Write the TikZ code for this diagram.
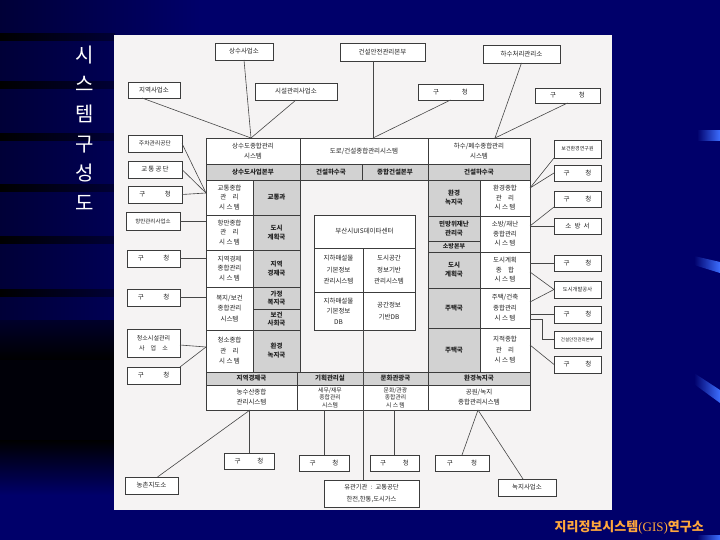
\documentclass[tikz,border=0pt]{standalone}
\usepackage{fontspec}
\setmainfont{Noto Sans CJK KR}
\newfontfamily\serifL{Liberation Serif}
\usetikzlibrary{calc}
\definecolor{bgnavy}{RGB}{0,0,106}
\definecolor{bgdark}{RGB}{0,0,55}
\definecolor{paper}{RGB}{245,243,243}
\definecolor{bdcol}{RGB}{60,60,60}
\definecolor{lncol}{RGB}{70,70,70}
\definecolor{txcol}{RGB}{35,35,35}
\definecolor{graycell}{RGB}{210,210,210}
\definecolor{barblue}{RGB}{60,110,255}
\definecolor{orng}{RGB}{255,168,60}
\newcommand\fsz[2]{\fontsize{#1}{#2}\selectfont}
\newcommand\gc[1]{구\hspace{#1}청}
\newcommand\cbx[7]{\node[#1, minimum width={(#5-#3)*1pt}, minimum height={(#6-#4)*1pt}] (#2) at ({(#3+#5)/2},{(#4+#6)/2}) {#7};}
\tikzset{
  ln/.style={draw=lncol, line width=0.6pt},
  cellw/.style={draw=bdcol, line width=0.7pt, fill=white, text=txcol, font=\fsz{6.5}{9.5}, align=center, inner sep=0pt, outer sep=0pt},
  cellg/.style={cellw, fill=graycell, font=\bfseries\fsz{6.5}{9}},
  ext/.style={cellw, font=\fsz{6.5}{8}},
}
\begin{document}
\begin{tikzpicture}[x=1pt,y=-1pt]
\useasboundingbox (0,0) rectangle (720,540);
% ---------- slide background ----------
\fill[bgnavy] (0,0) rectangle (720,540);
\shade[left color=bgdark, right color=bgnavy] (0,0) rectangle (200,330);
\foreach \yy in {37,85,137,188,240,293}{
  \shade[left color=black, right color=black!50!bgnavy] (0,\yy-3.5) rectangle (115,\yy+3.5);
}
\shade[top color=black!60!bgnavy, bottom color=black] (0,320) rectangle (115,360);
\fill[black!92!bgnavy] (0,360) rectangle (115,440);
\shade[top color=black, bottom color=bgnavy] (0,440) rectangle (115,495);
\shade[left color=bgnavy, right color=barblue] (697,131) rectangle (720,141);
\shade[left color=bgnavy, right color=barblue] (694,256) -- (720,262) -- (720,273) -- (694,265) -- cycle;
\shade[left color=bgnavy, right color=barblue] (694,373) -- (720,390) -- (720,403) -- (694,384) -- cycle;
\shade[left color=bgnavy, right color=barblue] (697,535) rectangle (720,540);
% title and brand
\node[text=white, font=\fsz{20}{29.6}, align=center, inner sep=0pt] (title) at (85,128) {시\\스\\템\\구\\성\\도};
\node[anchor=east, text=orng, font=\bfseries\fsz{13}{13}, inner sep=0pt] (brand) at (704,527) {지리정보시스템{\serifL\mdseries(GIS)}연구소};
% ---------- scanned panel ----------
\fill[paper] (114,35) rectangle (612,510);
% top row
\cbx{cellw}{T1}{206}{138}{300}{164}{상수도종합관리\\시스템}
\cbx{cellw}{T2}{300}{138}{428}{164}{도로/건설종합관리시스템}
\cbx{cellw}{T3}{428}{138}{530}{164}{하수/폐수종합관리\\시스템}
% header row
\cbx{cellg}{H1}{206}{164}{300}{180}{상수도사업본부}
\cbx{cellg}{H2}{300}{164}{362}{180}{건설하수국}
\cbx{cellg}{H3}{362}{164}{428}{180}{종합건설본부}
\cbx{cellg}{H4}{428}{164}{530}{180}{건설하수국}
% left column
\cbx{cellw}{L1s}{206}{180}{253}{215}{교통종합\\관\quad 리\\시 스 템}
\cbx{cellg}{L1d}{253}{180}{300}{215}{교통과}
\cbx{cellw}{L2s}{206}{215}{253}{250}{항만종합\\관\quad 리\\시 스 템}
\cbx{cellg}{L2d}{253}{215}{300}{250}{도시\\계획국}
\cbx{cellw}{L3s}{206}{250}{253}{287}{지역경제\\종합관리\\시 스 템}
\cbx{cellg}{L3d}{253}{250}{300}{287}{지역\\경제국}
\cbx{cellw, font=\fsz{6.5}{10.5}}{L4s}{206}{287}{253}{330}{복지/보건\\종합관리\\시스템}
\cbx{cellg, font=\bfseries\fsz{6.5}{8}}{L4d}{253}{287}{300}{309}{가정\\복지국}
\cbx{cellg, font=\bfseries\fsz{6.5}{8}}{L4e}{253}{309}{300}{330}{보건\\사회국}
\cbx{cellw, font=\fsz{6.5}{10.5}}{L5s}{206}{330}{253}{372}{청소종합\\관\quad 리\\시 스 템}
\cbx{cellg}{L5d}{253}{330}{300}{372}{환경\\녹지국}
% right column
\cbx{cellg}{R1d}{428}{180}{480}{216}{환경\\녹지국}
\cbx{cellw}{R1s}{480}{180}{530}{216}{환경종합\\관\quad 리\\시 스 템}
\cbx{cellg, font=\bfseries\fsz{6.5}{8.5}}{R2d}{428}{216}{480}{241}{민방위재난\\관리국}
\cbx{cellg, font=\bfseries\fsz{6}{7}}{R2e}{428}{241}{480}{252}{소방본부}
\cbx{cellw}{R2s}{480}{216}{530}{252}{소방/재난\\종합관리\\시 스 템}
\cbx{cellg}{R3d}{428}{252}{480}{288}{도시\\계획국}
\cbx{cellw}{R3s}{480}{252}{530}{288}{도시계획\\종\quad 합\\시 스 템}
\cbx{cellg}{R4d}{428}{288}{480}{328}{주택국}
\cbx{cellw, font=\fsz{6.5}{10.5}}{R4s}{480}{288}{530}{328}{주택/건축\\종합관리\\시 스 템}
\cbx{cellg}{R5d}{428}{328}{480}{372}{주택국}
\cbx{cellw, font=\fsz{6.5}{10.5}}{R5s}{480}{328}{530}{372}{지적종합\\관\quad 리\\시 스 템}
% bottom rows
\cbx{cellg}{BH1}{206}{372}{297}{385}{지역경제국}
\cbx{cellg}{BH2}{297}{372}{363}{385}{기획관리실}
\cbx{cellg}{BH3}{363}{372}{428}{385}{문화관광국}
\cbx{cellg}{BH4}{428}{372}{530}{385}{환경녹지국}
\cbx{cellw, font=\fsz{6.5}{10}}{BS1}{206}{385}{297}{410}{농수산종합\\관리시스템}
\cbx{cellw, font=\fsz{5.8}{7.4}}{BS2}{297}{385}{363}{410}{세무/재무\\종합관리\\시스템}
\cbx{cellw, font=\fsz{5.8}{7.4}}{BS3}{363}{385}{428}{410}{문화/관광\\종합관리\\시 스 템}
\cbx{cellw, font=\fsz{6.5}{10}}{BS4}{428}{385}{530}{410}{공원/녹지\\종합관리시스템}
\draw[bdcol, line width=0.9pt] (206,138) rectangle (530,410);
% center block
\cbx{cellw}{C0}{314}{215}{415}{248}{부산시UIS데이타센터}
\cbx{cellw, font=\fsz{6.5}{11.5}}{C1}{314}{248}{363}{292}{지하매설물\\기본정보\\관리시스템}
\cbx{cellw, font=\fsz{6.5}{11.5}}{C2}{363}{248}{415}{292}{도시공간\\정보기반\\관리시스템}
\cbx{cellw, font=\fsz{6.5}{10.5}}{C3}{314}{292}{363}{330}{지하매설물\\기본정보\\DB}
\cbx{cellw, font=\fsz{6.5}{11.5}}{C4}{363}{292}{415}{330}{공간정보\\기반DB}
% ---------- external boxes ----------
\cbx{ext}{e_jiyeok}{128}{82}{180}{98}{지역사업소}
\cbx{ext}{e_sangsu}{215}{43}{273}{60}{상수사업소}
\cbx{ext}{e_siseol}{255}{83}{337}{100}{시설관리사업소}
\cbx{ext}{e_geonseol}{340}{43}{425}{61}{건설안전관리본부}
\cbx{ext}{e_gu1}{418}{84}{483}{100}{\gc{3.5em}}
\cbx{ext}{e_hasu}{483}{45}{560}{63}{하수처리관리소}
\cbx{ext}{e_gu2}{535}{88}{600}{103}{\gc{3.5em}}
\cbx{ext, font=\fsz{5.8}{7}}{e_jucha}{128}{135}{182}{152}{주차관리공단}
\cbx{ext}{e_gyotong}{128}{161}{182}{178}{교\,통\,공\,단}
\cbx{ext}{e_gu3}{128}{186}{182}{203}{\gc{3em}}
\cbx{ext, font=\fsz{5.5}{7}}{e_hangman}{126}{212}{180}{230}{항만관리사업소}
\cbx{ext}{e_gu4}{127}{250}{180}{267}{\gc{3em}}
\cbx{ext}{e_gu5}{127}{289}{180}{306}{\gc{3em}}
\cbx{ext, font=\fsz{6}{10.5}}{e_cheongso}{127}{329}{180}{357}{청소시설관리\\사\quad 업\quad 소}
\cbx{ext}{e_gu6}{127}{367}{180}{384}{\gc{3em}}
\cbx{ext}{e_nongchon}{125}{477}{178}{494}{농촌지도소}
\cbx{ext, font=\fsz{5}{6}}{e_bogeon}{554}{140}{601}{158}{보건환경연구원}
\cbx{ext}{e_gu7}{554}{165}{601}{181}{\gc{2.4em}}
\cbx{ext}{e_gu8}{554}{191}{601}{207}{\gc{2.4em}}
\cbx{ext}{e_sobang}{554}{218}{601}{234}{소\enspace 방\enspace 서}
\cbx{ext}{e_gu9}{554}{255}{601}{271}{\gc{2.4em}}
\cbx{ext, font=\fsz{5.3}{6}}{e_dosi}{554}{281}{601}{298}{도시개발공사}
\cbx{ext}{e_gu10}{554}{306}{601}{323}{\gc{2.4em}}
\cbx{ext, font=\fsz{4.5}{6}}{e_geonan}{554}{331}{601}{348}{건설안전관리본부}
\cbx{ext}{e_gu11}{554}{356}{601}{373}{\gc{2.4em}}
\cbx{ext}{e_gu12}{224}{453}{274}{469}{\gc{2.6em}}
\cbx{ext}{e_gu13}{299}{455}{349}{471}{\gc{2.6em}}
\cbx{ext}{e_gu14}{370}{455}{419}{471}{\gc{2.6em}}
\cbx{ext}{e_gu15}{435}{455}{489}{471}{\gc{2.8em}}
\cbx{ext, font=\fsz{6.3}{11.5}}{e_yugwan}{324}{480}{419}{507}{유관기관\enspace :\enspace 교통공단\\한전,한통,도시가스}
\cbx{ext}{e_nokji}{498}{479}{556}{496}{녹지사업소}
% ---------- connector points ----------
\coordinate (P1) at (251,138);
\coordinate (P2) at (373,138);
\coordinate (P3) at (495,138);
\coordinate (P4) at (206,193);
\coordinate (P5) at (206,347);
\coordinate (P6) at (250,410);
\coordinate (P7) at (478,410);
\coordinate (P8) at (530,188);
\coordinate (P9) at (530,226);
% top
\draw[ln] ([xshift=-12pt]e_jiyeok.south) -- (P1);
\draw[ln] (e_sangsu.south) -- (P1);
\draw[ln] (e_siseol.south) -- (P1);
\draw[ln] ([xshift=-9.5pt]e_geonseol.south) -- (P2);
\draw[ln] (e_gu1.south) -- (P2);
\draw[ln] (e_hasu.south) -- (P3);
\draw[ln] (e_gu2.south) -- (P3);
% left
\draw[ln] (e_jucha.east) -- (P4);
\draw[ln] (e_gyotong.east) -- (P4);
\draw[ln] (e_gu3.east) -- (P4);
\draw[ln] (e_hangman.east) -- (e_hangman.east -| L2s.west);
\draw[ln] (e_gu4.east) -- (e_gu4.east -| L3s.west);
\draw[ln] (e_gu5.east) -- (e_gu5.east -| L4s.west);
\draw[ln] ([yshift=-2pt]e_cheongso.east) -- (P5);
\draw[ln] (e_gu6.north east) -- (P5);
% bottom
\draw[ln] ([xshift=6pt]e_nongchon.north) -- (P6);
\draw[ln] (e_gu12.north) -- (e_gu12.north |- BS1.south);
\draw[ln] (e_gu13.north) -- (e_gu13.north |- BS2.south);
\draw[ln] (C3.south east) -- (C3.south east |- e_yugwan.north);
\draw[ln] (e_gu14.north) -- (e_gu14.north |- BS3.south);
\draw[ln] (e_gu15.north) -- (P7);
\draw[ln] ([xshift=-4pt]e_nokji.north) -- (P7);
% right
\draw[ln] (e_bogeon.south west) -- (P8);
\draw[ln] (e_gu7.west) -- (P8);
\draw[ln] (e_gu8.south west) -- (P9);
\draw[ln] (e_sobang.west) -- (P9);
\draw[ln] (e_gu9.west) -- (e_gu9.west -| R3s.east);
\draw[ln] ([yshift=16pt]R4s.north east) -- (e_dosi.west) -- ([yshift=-14pt]R4s.north east);
\draw[ln] (e_gu10.west) -- (e_gu10.west -| R4s.east);
\draw[ln] ([yshift=9pt]R4s.south east) -- ++(12,0) |- (e_geonan.west);
\draw[ln] (e_gu11.west) -- ([yshift=-17pt]R5s.north east);
\end{tikzpicture}
\end{document}
